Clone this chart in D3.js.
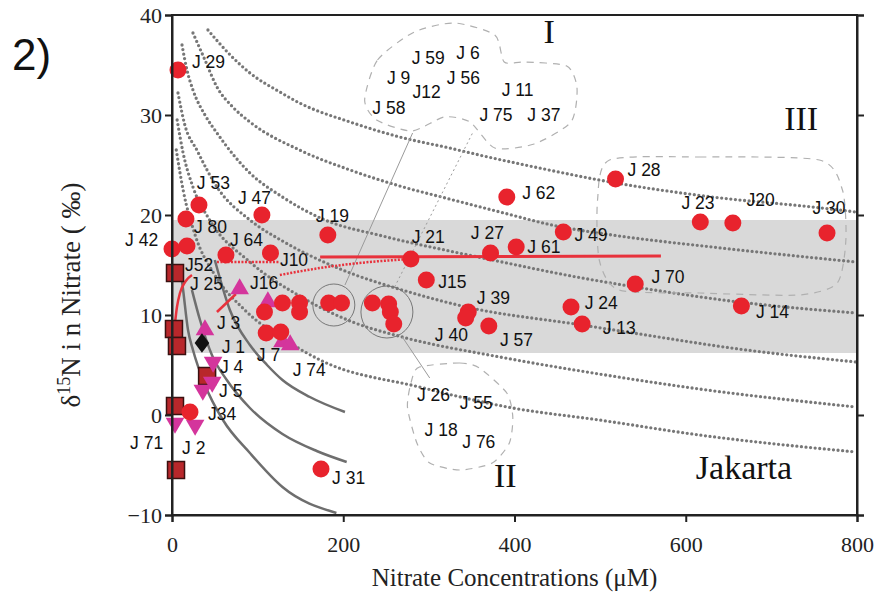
<!DOCTYPE html>
<html>
<head>
<meta charset="utf-8">
<script src="https://cdn.jsdelivr.net/npm/d3@7"></script>
<style>
  body { margin: 0; background: #fff; }
  svg { display: block; }
</style>
</head>
<body>
<div id="plot"></div>
<script>
// axis ticks
const xTicks = [0, 200, 400, 600, 800];
const yTicks = [-10, 0, 10, 20, 30, 40];

// shaded band (d15N range)
const band = [6.2, 19.5];

// red circles (nitrate uM, d15N)
const circles = [
  [7, 34.5], [31.5, 21.0], [16.3, 19.6], [0, 16.6], [17.5, 16.9], [63, 16.0],
  [115, 16.2], [105, 20.0], [182, 18.0], [279, 15.6], [297, 13.5], [372, 16.2],
  [402, 16.8], [391, 21.8], [457, 18.3], [518, 23.6], [617, 19.3], [655, 19.2],
  [765, 18.2], [541, 13.1], [665, 10.9], [479, 9.1], [466, 10.8], [346, 10.3],
  [343, 9.7], [370, 8.9], [21, 0.3], [174, -5.4],
  [108, 10.3], [129, 11.2], [149, 11.2], [149, 10.3], [110, 8.2], [127, 8.3],
  [183, 11.2], [198, 11.2], [234, 11.2], [253, 11.1], [255, 10.3], [259, 9.1]
];
const squares = [[3.5, 14.2], [2.3, 8.6], [5.8, 6.9], [41, 3.9], [3.5, 0.9], [4.7, -5.5]];
const upTriangles = [[79, 12.6], [112, 11.3], [38.5, 8.5], [129, 7.3], [138, 7.0]];
const downTriangles = [[48, 5.3], [47, 3.3], [36, 2.5], [3.5, -0.8], [27, -1.0]];
const diamonds = [[35, 7.2]];

// station labels [text, x, y]
const pointLabels = [
  ["J 29", 23.3, 35.3], ["J 53", 29, 23.2], ["J 80", 25.7, 18.8], ["J 42", -54.8, 17.5],
  ["J52", 15.2, 15.0], ["J 25", 21, 13.1], ["J 64", 67.6, 17.5], ["J 47", 77, 21.7],
  ["J10", 126, 15.5], ["J 19", 168, 19.9], ["J 21", 280, 17.8], ["J15", 311, 13.3],
  ["J 27", 349, 18.2], ["J 61", 415, 16.8], ["J 62", 409, 22.2], ["J 49", 470, 18.0],
  ["J 28", 532, 24.5], ["J 23", 595, 21.2], ["J20", 671, 21.5], ["J 30", 748, 20.7],
  ["J 70", 560, 13.8], ["J 14", 682, 10.3], ["J 13", 503, 8.7], ["J 24", 482, 11.2],
  ["J 39", 356, 11.7], ["J 40", 307, 8.0], ["J 57", 383, 7.5], ["J 26", 286, 2.0],
  ["J 55", 336, 1.2], ["J 18", 295, -1.5], ["J 76", 339, -2.7], ["J 31", 187, -6.3],
  ["J 74", 141, 4.5], ["J 7", 99, 6.0], ["J 3", 52.5, 9.2], ["J 1", 58, 6.8],
  ["J 4", 56, 4.8], ["J 5", 55, 2.4], ["J34", 42, 0.1], ["J 71", -49, -2.8],
  ["J 2", 11.7, -3.3], ["J16", 91, 13.2],
  ["J 59", 280, 35.7], ["J 6", 332, 36.2], ["J 9", 251, 33.7], ["J 56", 321, 33.7],
  ["J12", 281, 32.3], ["J 58", 234, 30.7], ["J 11", 385, 32.5], ["J 75", 359, 30.0],
  ["J 37", 415, 30.0]
];

// dotted mixing curves
const dottedCurves = [
  [[42, 38.5], [68, 36.0], [91, 34.2], [126, 32.3], [149, 31.2], [208, 29.3], [266, 27.8],
   [324, 26.7], [359, 26.0], [429, 24.7], [499, 23.5], [631, 21.8], [748, 20.8], [799, 20.3]],
  [[24.5, 38.2], [38.5, 35.5], [52.5, 32.8], [71, 30.8], [91, 29.3], [149, 26.5], [208, 24.5],
   [266, 22.9], [324, 21.6], [383, 20.3], [449, 18.9], [514, 18.0], [631, 16.8], [799, 15.3]],
  [[11.7, 37.0], [17.5, 34.5], [24.5, 32.5], [38.5, 30.0], [52.5, 28.2], [91, 24.2], [129, 21.8],
   [176, 19.6], [246, 17.9], [324, 16.4], [363, 15.7], [479, 13.7], [541, 12.8], [662, 11.3], [799, 10.2]],
  [[7, 32.2], [15, 29.0], [29, 26.5], [52.5, 22.8], [91, 19.5], [129, 17.4], [188, 14.9],
   [281, 12.2], [344, 10.8], [479, 9.0], [546, 8.1], [662, 6.6], [799, 5.3]],
  [[6, 29.5], [13, 26.2], [24.5, 22.8], [44, 19.5], [91, 15.3], [149, 11.9], [211, 9.3],
   [269, 7.8], [383, 5.8], [499, 4.1], [616, 2.6], [799, 0.8]],
  [[5, 26.5], [13, 22.5], [27, 18.0], [50, 14.0], [85, 10.5], [138, 7.2], [173, 5.5],
   [289, 2.8], [398, 0.7], [499, -0.5], [616, -2.0], [799, -3.7]]
];

// solid mixing curves near the origin
const solidCurves = [
  [[9.3, 15], [13, 12.5], [18.7, 8.5], [24.5, 6.5], [38.5, 3.0], [59.5, -0.5], [91, -3.8], [129, -7.2], [192, -9.8]],
  [[23.3, 12.5], [32.7, 9.5], [46.6, 6.0], [64, 3.5], [91, 0.7], [129, -1.9], [169, -3.6], [204, -4.7]],
  [[50, 15.5], [67.6, 10.5], [91, 7.0], [111, 5.0], [129, 3.5], [161, 1.8], [202, 0.3]]
];

// red trend lines
const redArc = [[3.5, 9.2], [5.8, 10.8], [9.3, 12.2], [15.2, 13.3], [23.3, 14.0]];
const redShort = [[52.5, 10.3], [74.6, 12.1]];
const redDottedFlat = [[52.5, 15.3], [126, 15.3]];
const redDottedRise = [[126, 14.0], [173, 14.7], [219, 15.2], [278, 15.6]];
const redThick = [[173, 15.8], [571, 15.9]];

// group outlines (dashed clouds)
const cloudI = [[225, 31.5], [240, 35.5], [283, 38.3], [330, 39.2], [377, 38.0], [388, 35.3],
  [412, 35.3], [461, 34.9], [473, 32.7], [466, 29.3], [423, 27.1], [377, 26.7], [348, 29.3],
  [318, 29.8], [280, 28.4], [239, 29.5]];
const cloudII = [[289, 4.8], [336, 5.2], [359, 4.7], [391, 2.2], [398, -0.2], [394, -2.8],
  [374, -4.8], [336, -5.5], [301, -4.8], [286, -2.8], [275, 0.8], [280, 3.5]];
const cloudIII = [[511, 25.5], [616, 25.8], [756, 25.5], [783, 22.5], [787, 17.5], [777, 13.2],
  [732, 12.0], [616, 12.2], [522, 12.5], [499, 15.5], [497, 21.5]];

// circled sub-groups [x, y, radius px]
const ringGroups = [[189, 11.0, 21], [251, 10.3, 26]];
// connectors between rings and clouds
const connectors = [
  { pts: [[202, 13.0], [281, 28.2]], dash: null },
  { pts: [[260, 12.8], [351, 28.2]], dash: "2,3" },
  { pts: [[269, 7.8], [301, 3.7]], dash: null }
];

const regionLabels = [["I", 434, 37.2], ["II", 376, -7.2], ["III", 715, 28.5]];

const width = 883, height = 598;
const margin = { top: 15, right: 26, bottom: 84, left: 172 };

const svg = d3.select("#plot")
  .append("svg")
  .attr("width", width)
  .attr("height", height);

const x = d3.scaleLinear().domain([0, 800]).range([margin.left, width - margin.right]);
const y = d3.scaleLinear().domain([-10, 40]).range([height - margin.bottom + 1, margin.top]);

const serif = "'Liberation Serif', 'Times New Roman', serif";
const sans = "'Liberation Sans', Arial, sans-serif";

// gray band
svg.append("rect")
  .attr("x", x(0))
  .attr("y", y(band[1]))
  .attr("width", x(800) - x(0))
  .attr("height", y(band[0]) - y(band[1]))
  .attr("fill", "#d9d9d9");

const line = d3.line().x(d => x(d[0])).y(d => y(d[1])).curve(d3.curveMonotoneX);

svg.append("g").selectAll("path")
  .data(dottedCurves)
  .enter().append("path")
  .attr("d", line)
  .attr("fill", "none")
  .attr("stroke", "#777")
  .attr("stroke-width", 3.3)
  .attr("stroke-linecap", "round")
  .attr("stroke-dasharray", "0,4.6");

svg.append("g").selectAll("path")
  .data(solidCurves)
  .enter().append("path")
  .attr("d", line)
  .attr("fill", "none")
  .attr("stroke", "#6e6e6e")
  .attr("stroke-width", 2.5);

// connectors and rings
svg.append("g").selectAll("path")
  .data(connectors)
  .enter().append("path")
  .attr("d", d => d3.line().x(p => x(p[0])).y(p => y(p[1]))(d.pts))
  .attr("fill", "none")
  .attr("stroke", "#9a9a9a")
  .attr("stroke-width", 1)
  .attr("stroke-dasharray", d => d.dash);

svg.append("g").selectAll("circle")
  .data(ringGroups)
  .enter().append("circle")
  .attr("cx", d => x(d[0]))
  .attr("cy", d => y(d[1]))
  .attr("r", d => d[2])
  .attr("fill", "none")
  .attr("stroke", "#777")
  .attr("stroke-width", 1);

// dashed clouds
const closed = d3.line().x(d => x(d[0])).y(d => y(d[1])).curve(d3.curveCardinalClosed.tension(0.3));
svg.append("g").selectAll("path")
  .data([cloudI, cloudII, cloudIII])
  .enter().append("path")
  .attr("d", closed)
  .attr("fill", "none")
  .attr("stroke", "#b0b0b0")
  .attr("stroke-width", 1.2)
  .attr("stroke-dasharray", "7,6");

// red lines
const straight = d3.line().x(d => x(d[0])).y(d => y(d[1]));
svg.append("path").attr("d", line(redArc))
  .attr("fill", "none").attr("stroke", "#e8323c").attr("stroke-width", 2.5);
svg.append("path").attr("d", straight(redShort))
  .attr("fill", "none").attr("stroke", "#e8323c").attr("stroke-width", 2.5);
svg.append("path").attr("d", straight(redDottedFlat))
  .attr("fill", "none").attr("stroke", "#e8323c").attr("stroke-width", 2.5)
  .attr("stroke-dasharray", "2,1.5");
svg.append("path").attr("d", line(redDottedRise))
  .attr("fill", "none").attr("stroke", "#e8323c").attr("stroke-width", 2.5)
  .attr("stroke-dasharray", "2,1.5");
svg.append("path").attr("d", straight(redThick))
  .attr("fill", "none").attr("stroke", "#e8323c").attr("stroke-width", 3);

// markers
svg.append("g").selectAll("rect")
  .data(squares)
  .enter().append("rect")
  .attr("x", d => x(d[0]) - 8.5)
  .attr("y", d => y(d[1]) - 8.5)
  .attr("width", 17)
  .attr("height", 17)
  .attr("fill", "#b8272b")
  .attr("stroke", "#3a1010")
  .attr("stroke-width", 1.5);

const tri = d3.symbol().type(d3.symbolTriangle).size(150);
svg.append("g").selectAll("path")
  .data(upTriangles)
  .enter().append("path")
  .attr("d", tri)
  .attr("transform", d => `translate(${x(d[0])},${y(d[1])})`)
  .attr("fill", "#d4359c");
svg.append("g").selectAll("path")
  .data(downTriangles)
  .enter().append("path")
  .attr("d", tri)
  .attr("transform", d => `translate(${x(d[0])},${y(d[1])}) rotate(180)`)
  .attr("fill", "#d4359c");

svg.append("g").selectAll("path")
  .data(diamonds)
  .enter().append("path")
  .attr("d", d3.symbol().type(d3.symbolDiamond).size(110))
  .attr("transform", d => `translate(${x(d[0])},${y(d[1])}) scale(1.3,1)`)
  .attr("fill", "#111");

svg.append("g").selectAll("circle")
  .data(circles)
  .enter().append("circle")
  .attr("cx", d => x(d[0]))
  .attr("cy", d => y(d[1]))
  .attr("r", 8.5)
  .attr("fill", "#e8232d");

// labels
svg.append("g").selectAll("text")
  .data(pointLabels)
  .enter().append("text")
  .attr("x", d => x(d[1]))
  .attr("y", d => y(d[2]))
  .attr("dy", "0.36em")
  .attr("font-family", sans)
  .attr("font-size", 17.5)
  .attr("fill", "#111")
  .text(d => d[0]);

svg.append("g").selectAll("text")
  .data(regionLabels)
  .enter().append("text")
  .attr("x", d => x(d[1]))
  .attr("y", d => y(d[2]))
  .attr("font-family", serif)
  .attr("font-size", 34)
  .attr("fill", "#111")
  .text(d => d[0]);

svg.append("text")
  .attr("x", x(668))
  .attr("y", y(-5.2))
  .attr("text-anchor", "middle")
  .attr("dy", "0.36em")
  .attr("font-family", serif)
  .attr("font-size", 34)
  .attr("fill", "#111")
  .text("Jakarta");

// axes frame
svg.append("rect")
  .attr("x", x(0)).attr("y", y(40))
  .attr("width", x(800) - x(0)).attr("height", y(-10) - y(40))
  .attr("fill", "none").attr("stroke", "#222").attr("stroke-width", 2);

const xAxis = svg.append("g")
  .attr("transform", `translate(0,${y(-10)})`)
  .call(d3.axisBottom(x).tickValues(xTicks).tickSize(7).tickPadding(14));
const yAxis = svg.append("g")
  .attr("transform", `translate(${x(0)},0)`)
  .call(d3.axisLeft(y).tickValues(yTicks).tickSize(7).tickPadding(3));
const yAxisR = svg.append("g")
  .attr("transform", `translate(${x(800)},0)`)
  .call(d3.axisRight(y).tickValues(yTicks).tickSize(7).tickFormat(""));

[xAxis, yAxis, yAxisR].forEach(a => {
  a.select(".domain").attr("stroke", "#222").attr("stroke-width", 2);
  a.selectAll(".tick line").attr("stroke", "#222").attr("stroke-width", 2);
  a.selectAll("text").attr("font-family", serif).attr("font-size", 22).attr("fill", "#222");
});

svg.append("text")
  .attr("x", x(400))
  .attr("y", 586)
  .attr("text-anchor", "middle")
  .attr("font-family", serif)
  .attr("font-size", 25)
  .attr("fill", "#222")
  .text("Nitrate Concentrations (μM)");

const yt = svg.append("text")
  .attr("transform", `translate(80,${y(12)}) rotate(-90)`)
  .attr("text-anchor", "middle")
  .attr("font-family", serif)
  .attr("font-size", 27)
  .attr("fill", "#222");
yt.append("tspan").text("δ");
yt.append("tspan").attr("dy", -10).attr("font-size", 18).text("15");
yt.append("tspan").attr("dy", 10).text("N i n Nitrate ( ‰)");

svg.append("text")
  .attr("x", 12)
  .attr("y", 70)
  .attr("font-family", sans)
  .attr("font-size", 44)
  .attr("fill", "#111")
  .text("2)");
</script>
</body>
</html>
